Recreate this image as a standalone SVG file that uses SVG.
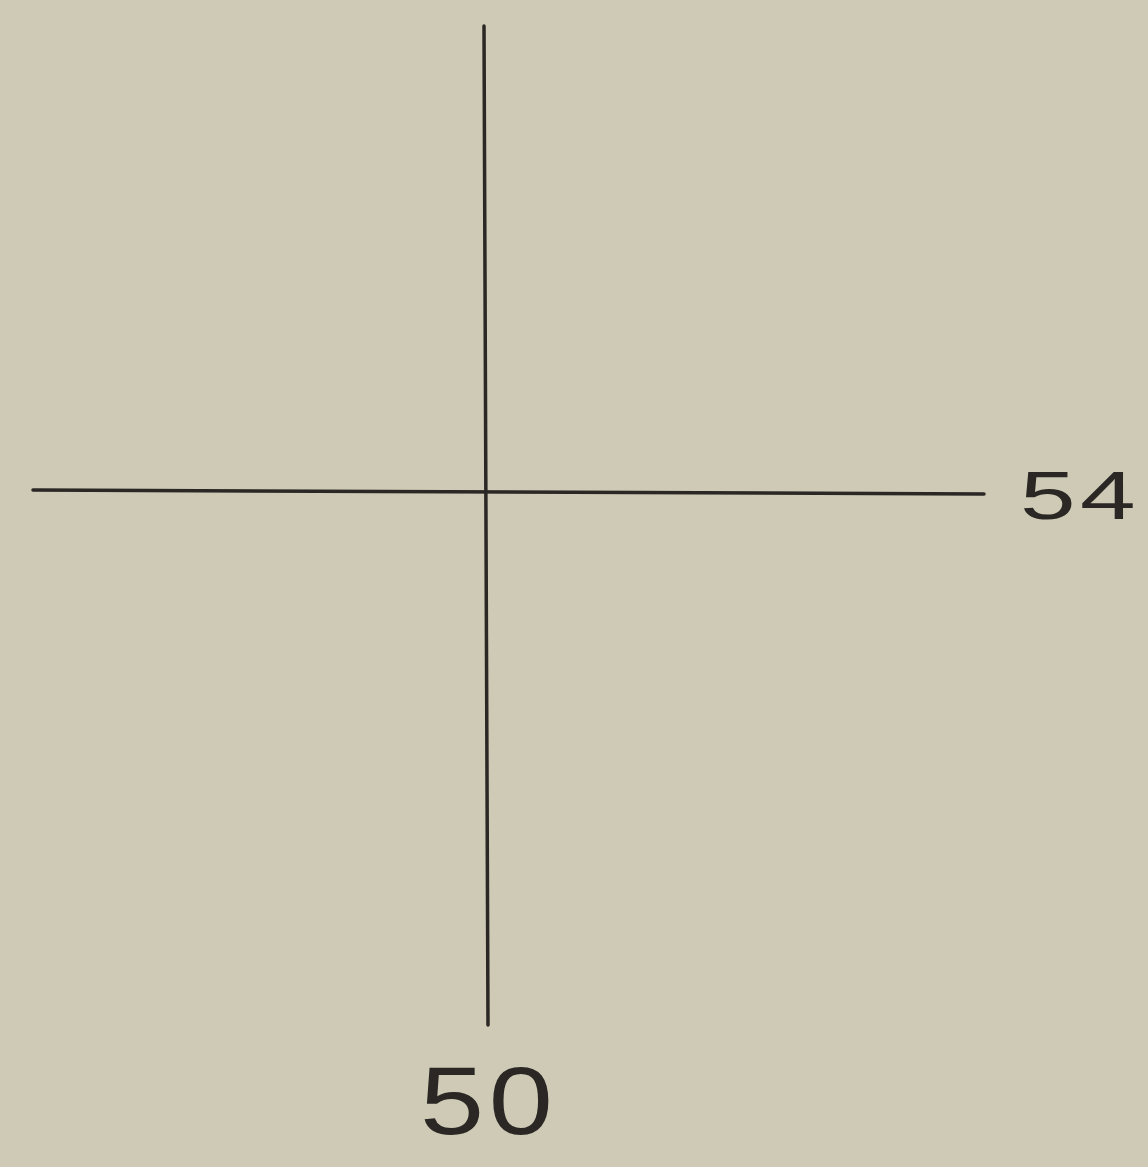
<svg xmlns="http://www.w3.org/2000/svg" width="1148" height="1167" viewBox="0 0 1148 1167">
<style>
.ln{stroke:#2a2724;stroke-width:3.5;fill:none;stroke-linecap:round}
.lbl{font-family:"Liberation Sans",Arial,sans-serif;fill:#2a2724;font-weight:300}
</style>
<rect width="1148" height="1167" fill="#cecab5"/>
<g id="connectors">
<line class="ln" x1="484" y1="26" x2="488" y2="1025"/>
<line class="ln" x1="33" y1="490" x2="984" y2="494"/>
</g>
<g id="label-54"><text class="lbl" transform="translate(1020,519) scale(1.45,1)" x="0" y="0" font-size="69" letter-spacing="3">54</text></g>
<g id="label-50"><text class="lbl" transform="translate(420,1134) scale(1.2,1)" x="0" y="0" font-size="96" letter-spacing="4">50</text></g>
</svg>
